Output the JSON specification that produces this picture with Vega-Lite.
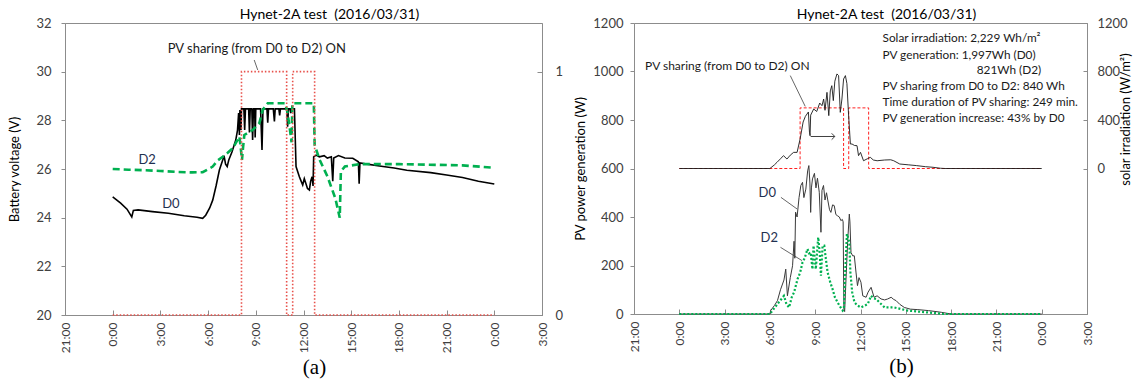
{
  "$schema": "https://vega.github.io/schema/vega-lite/v6.json",
  "padding": {"left": 8, "top": 7, "right": 2, "bottom": 0},
  "spacing": 10,
  "config": {
    "font": "Lato",
    "view": {"stroke": "#8c8c8c", "strokeWidth": 1},
    "axis": {"grid": false, "domainColor": "#8c8c8c", "tickColor": "#8c8c8c", "labelColor": "#404040", "titleColor": "#000000", "labelFont": "Lato", "titleFont": "Lato", "labelFontSize": 13, "titleFontSize": 13, "titleFontWeight": "normal"},
    "title": {"font": "Lato", "fontSize": 14, "fontWeight": "normal", "color": "#000000"}
  },
  "datasets": {
    "a_d0": [
      {"h": 0, "v": 24.85}, {"h": 0.5, "v": 24.6}, {"h": 0.9, "v": 24.35}, {"h": 1.2, "v": 24.03}, {"h": 1.3, "v": 24.3},
      {"h": 1.6, "v": 24.32}, {"h": 2.5, "v": 24.25}, {"h": 3.5, "v": 24.18}, {"h": 4.5, "v": 24.08}, {"h": 5.3, "v": 24.02},
      {"h": 5.66, "v": 23.97}, {"h": 5.85, "v": 24.1}, {"h": 6.1, "v": 24.4}, {"h": 6.29, "v": 24.72}, {"h": 6.5, "v": 25.3},
      {"h": 6.71, "v": 25.96}, {"h": 6.92, "v": 26.37}, {"h": 7.0, "v": 26.55}, {"h": 7.1, "v": 26.2}, {"h": 7.2, "v": 26.1},
      {"h": 7.3, "v": 26.37}, {"h": 7.5, "v": 26.7}, {"h": 7.74, "v": 27.19}, {"h": 7.85, "v": 27.6}, {"h": 7.92, "v": 28.3},
      {"h": 7.97, "v": 27.4}, {"h": 8.0, "v": 28.42}, {"h": 8.05, "v": 28.2}, {"h": 8.07, "v": 27.6}, {"h": 8.1, "v": 28.47},
      {"h": 8.25, "v": 28.47}, {"h": 8.3, "v": 27.6}, {"h": 8.35, "v": 28.47}, {"h": 8.55, "v": 28.47}, {"h": 8.6, "v": 27.5},
      {"h": 8.65, "v": 28.47}, {"h": 8.75, "v": 28.47}, {"h": 8.8, "v": 27.19}, {"h": 8.85, "v": 28.47}, {"h": 8.93, "v": 28.47},
      {"h": 8.96, "v": 27.3}, {"h": 9.0, "v": 28.47}, {"h": 9.3, "v": 28.47}, {"h": 9.39, "v": 26.78}, {"h": 9.45, "v": 28.47},
      {"h": 9.7, "v": 28.47}, {"h": 9.75, "v": 27.9}, {"h": 9.8, "v": 28.47}, {"h": 10.1, "v": 28.47}, {"h": 10.17, "v": 27.95},
      {"h": 10.22, "v": 28.47}, {"h": 10.45, "v": 28.47}, {"h": 10.5, "v": 28.2}, {"h": 10.55, "v": 28.47}, {"h": 10.95, "v": 28.47},
      {"h": 11.0, "v": 27.74}, {"h": 11.05, "v": 28.47}, {"h": 11.15, "v": 28.47}, {"h": 11.2, "v": 28.3}, {"h": 11.25, "v": 28.47},
      {"h": 11.43, "v": 28.47}, {"h": 11.53, "v": 26.1}, {"h": 11.74, "v": 25.68}, {"h": 11.85, "v": 25.5}, {"h": 11.95, "v": 25.34},
      {"h": 12.05, "v": 25.6}, {"h": 12.14, "v": 25.42}, {"h": 12.25, "v": 25.2}, {"h": 12.37, "v": 25.14}, {"h": 12.45, "v": 25.5},
      {"h": 12.54, "v": 25.68}, {"h": 12.6, "v": 25.3}, {"h": 12.64, "v": 26.5}, {"h": 12.79, "v": 26.57}, {"h": 13.0, "v": 26.5},
      {"h": 13.3, "v": 26.55}, {"h": 13.5, "v": 26.45}, {"h": 13.75, "v": 26.5}, {"h": 13.84, "v": 25.5}, {"h": 13.9, "v": 26.45},
      {"h": 14.2, "v": 26.55}, {"h": 14.6, "v": 26.45}, {"h": 15.1, "v": 26.44}, {"h": 15.45, "v": 26.3}, {"h": 15.5, "v": 25.4},
      {"h": 15.55, "v": 26.25}, {"h": 16.0, "v": 26.2}, {"h": 17.0, "v": 26.1}, {"h": 17.7, "v": 26.04}, {"h": 18.5, "v": 25.95},
      {"h": 20.0, "v": 25.85}, {"h": 21.0, "v": 25.75}, {"h": 22.0, "v": 25.65}, {"h": 23.0, "v": 25.5}, {"h": 24.0, "v": 25.38}
    ],
    "a_d2": [
      {"h": 0, "v": 26.0}, {"h": 1, "v": 25.97}, {"h": 2, "v": 25.95}, {"h": 3, "v": 25.92}, {"h": 4, "v": 25.88},
      {"h": 5, "v": 25.86}, {"h": 5.66, "v": 25.87}, {"h": 6.29, "v": 26.1}, {"h": 6.6, "v": 26.35}, {"h": 6.92, "v": 26.5},
      {"h": 7.2, "v": 26.65}, {"h": 7.55, "v": 26.85}, {"h": 7.97, "v": 27.33}, {"h": 8.05, "v": 26.9}, {"h": 8.13, "v": 26.37},
      {"h": 8.2, "v": 26.9}, {"h": 8.28, "v": 27.4}, {"h": 8.8, "v": 27.6}, {"h": 9.22, "v": 27.88}, {"h": 9.43, "v": 28.42},
      {"h": 9.75, "v": 28.7}, {"h": 10.3, "v": 28.7}, {"h": 10.85, "v": 28.7}, {"h": 11.0, "v": 28.3}, {"h": 11.15, "v": 27.6},
      {"h": 11.25, "v": 27.1}, {"h": 11.3, "v": 28.7}, {"h": 12.0, "v": 28.7}, {"h": 12.65, "v": 28.7}, {"h": 12.7, "v": 27.0},
      {"h": 13.0, "v": 26.4}, {"h": 13.5, "v": 25.7}, {"h": 14.0, "v": 24.8}, {"h": 14.28, "v": 24.0}, {"h": 14.35, "v": 25.9},
      {"h": 14.6, "v": 26.1}, {"h": 15.5, "v": 26.2}, {"h": 18, "v": 26.2}, {"h": 22, "v": 26.15}, {"h": 24, "v": 26.05}
    ],
    "a_share": [
      {"h": 0, "s": 0}, {"h": 8.1, "s": 1}, {"h": 10.94, "s": 0}, {"h": 11.32, "s": 1}, {"h": 12.7, "s": 0}, {"h": 24, "s": 0}
    ],
    "a_text": [
      {"h": 9.06, "v": 30.93, "label": "PV sharing (from D0 to D2) ON"}
    ],
    "a_dlab": [
      {"h": 2.17, "v": 26.37, "label": "D2"},
      {"h": 3.66, "v": 24.56, "label": "D0"}
    ],
    "a_lead": [
      {"h": 8.9, "v": 30.48, "h2": 9.12, "v2": 30.07}
    ],
    "b_irr": [
      {"h": 0, "r": 0}, {"h": 6.0, "r": 0}, {"h": 6.3, "r": 30}, {"h": 6.47, "r": 51}, {"h": 6.7, "r": 80},
      {"h": 6.9, "r": 106}, {"h": 7.13, "r": 78}, {"h": 7.35, "r": 110}, {"h": 7.57, "r": 133}, {"h": 7.8, "r": 133},
      {"h": 8.0, "r": 243}, {"h": 8.2, "r": 383}, {"h": 8.35, "r": 430}, {"h": 8.55, "r": 466}, {"h": 8.62, "r": 300},
      {"h": 8.66, "r": 270}, {"h": 8.7, "r": 440}, {"h": 8.9, "r": 491}, {"h": 9.1, "r": 470}, {"h": 9.3, "r": 540},
      {"h": 9.45, "r": 518}, {"h": 9.56, "r": 573}, {"h": 9.65, "r": 480}, {"h": 9.78, "r": 628}, {"h": 9.9, "r": 436},
      {"h": 10.0, "r": 640}, {"h": 10.1, "r": 683}, {"h": 10.2, "r": 560}, {"h": 10.3, "r": 720}, {"h": 10.44, "r": 780},
      {"h": 10.55, "r": 766}, {"h": 10.66, "r": 463}, {"h": 10.77, "r": 573}, {"h": 10.88, "r": 738}, {"h": 11.0, "r": 766},
      {"h": 11.1, "r": 700}, {"h": 11.2, "r": 466}, {"h": 11.33, "r": 202}, {"h": 11.44, "r": 202}, {"h": 11.6, "r": 190},
      {"h": 11.77, "r": 188}, {"h": 11.87, "r": 106}, {"h": 12.0, "r": 133}, {"h": 12.2, "r": 64}, {"h": 12.45, "r": 80},
      {"h": 12.65, "r": 92}, {"h": 12.85, "r": 70}, {"h": 13.1, "r": 64}, {"h": 13.6, "r": 70}, {"h": 14.0, "r": 72},
      {"h": 14.2, "r": 64}, {"h": 14.6, "r": 37}, {"h": 15.2, "r": 30}, {"h": 15.7, "r": 24}, {"h": 16.3, "r": 15},
      {"h": 16.8, "r": 10}, {"h": 17.3, "r": 2}, {"h": 17.6, "r": 0}, {"h": 24, "r": 0}
    ],
    "b_share": [
      {"h": 0, "v": 600}, {"h": 8.0, "v": 850}, {"h": 10.88, "v": 600}, {"h": 11.22, "v": 850}, {"h": 12.54, "v": 600}, {"h": 24, "v": 600}
    ],
    "b_d0": [
      {"h": 0, "v": 0}, {"h": 6.0, "v": 0}, {"h": 6.05, "v": 14}, {"h": 6.3, "v": 35}, {"h": 6.5, "v": 55},
      {"h": 6.7, "v": 100}, {"h": 6.93, "v": 140}, {"h": 7.05, "v": 185}, {"h": 7.16, "v": 75}, {"h": 7.35, "v": 150},
      {"h": 7.5, "v": 199}, {"h": 7.6, "v": 300}, {"h": 7.65, "v": 230}, {"h": 7.7, "v": 420}, {"h": 7.8, "v": 400},
      {"h": 7.93, "v": 480}, {"h": 8.05, "v": 530}, {"h": 8.16, "v": 543}, {"h": 8.25, "v": 480}, {"h": 8.38, "v": 515},
      {"h": 8.5, "v": 590}, {"h": 8.58, "v": 612}, {"h": 8.65, "v": 540}, {"h": 8.7, "v": 419}, {"h": 8.75, "v": 520},
      {"h": 8.82, "v": 557}, {"h": 8.95, "v": 580}, {"h": 9.05, "v": 520}, {"h": 9.15, "v": 560}, {"h": 9.27, "v": 502},
      {"h": 9.38, "v": 337}, {"h": 9.45, "v": 510}, {"h": 9.55, "v": 530}, {"h": 9.65, "v": 470}, {"h": 9.75, "v": 500},
      {"h": 9.82, "v": 474}, {"h": 9.95, "v": 430}, {"h": 10.04, "v": 419}, {"h": 10.15, "v": 450}, {"h": 10.26, "v": 447},
      {"h": 10.37, "v": 410}, {"h": 10.48, "v": 405}, {"h": 10.6, "v": 400}, {"h": 10.7, "v": 385}, {"h": 10.8, "v": 390},
      {"h": 10.85, "v": 380}, {"h": 10.9, "v": 20}, {"h": 10.95, "v": 10}, {"h": 11.04, "v": 144}, {"h": 11.15, "v": 300},
      {"h": 11.26, "v": 412}, {"h": 11.3, "v": 380}, {"h": 11.37, "v": 254}, {"h": 11.48, "v": 240}, {"h": 11.59, "v": 240},
      {"h": 11.7, "v": 173}, {"h": 11.8, "v": 117}, {"h": 11.9, "v": 150}, {"h": 12.03, "v": 131}, {"h": 12.15, "v": 75},
      {"h": 12.37, "v": 69}, {"h": 12.5, "v": 90}, {"h": 12.7, "v": 110}, {"h": 12.9, "v": 69}, {"h": 13.1, "v": 75},
      {"h": 13.36, "v": 62}, {"h": 13.6, "v": 58}, {"h": 13.8, "v": 62}, {"h": 14.03, "v": 69}, {"h": 14.2, "v": 60},
      {"h": 14.36, "v": 55}, {"h": 14.6, "v": 40}, {"h": 14.9, "v": 27}, {"h": 15.3, "v": 20}, {"h": 15.8, "v": 18},
      {"h": 16.5, "v": 14}, {"h": 17.0, "v": 10}, {"h": 17.35, "v": 7}, {"h": 18.0, "v": 0}, {"h": 24, "v": 0}
    ],
    "b_d2": [
      {"h": 0, "v": 0}, {"h": 6.0, "v": 0}, {"h": 6.5, "v": 41}, {"h": 6.93, "v": 75}, {"h": 7.1, "v": 40},
      {"h": 7.27, "v": 27}, {"h": 7.45, "v": 70}, {"h": 7.6, "v": 89}, {"h": 7.83, "v": 144}, {"h": 8.0, "v": 170},
      {"h": 8.16, "v": 213}, {"h": 8.3, "v": 230}, {"h": 8.49, "v": 268}, {"h": 8.6, "v": 250}, {"h": 8.7, "v": 254},
      {"h": 8.82, "v": 185}, {"h": 8.89, "v": 282}, {"h": 9.04, "v": 185}, {"h": 9.2, "v": 316}, {"h": 9.3, "v": 250},
      {"h": 9.38, "v": 158}, {"h": 9.49, "v": 282}, {"h": 9.6, "v": 282}, {"h": 9.7, "v": 230}, {"h": 9.82, "v": 172},
      {"h": 10.0, "v": 130}, {"h": 10.15, "v": 103}, {"h": 10.3, "v": 70}, {"h": 10.48, "v": 48}, {"h": 10.65, "v": 30},
      {"h": 10.82, "v": 14}, {"h": 10.9, "v": 20}, {"h": 10.97, "v": 150}, {"h": 11.1, "v": 330}, {"h": 11.2, "v": 310},
      {"h": 11.26, "v": 296}, {"h": 11.33, "v": 172}, {"h": 11.45, "v": 90}, {"h": 11.6, "v": 48}, {"h": 11.8, "v": 35},
      {"h": 12.03, "v": 27}, {"h": 12.3, "v": 35}, {"h": 12.48, "v": 41}, {"h": 12.7, "v": 75}, {"h": 12.85, "v": 65},
      {"h": 13.03, "v": 62}, {"h": 13.3, "v": 45}, {"h": 13.6, "v": 27}, {"h": 14.25, "v": 27}, {"h": 14.7, "v": 20},
      {"h": 15.14, "v": 14}, {"h": 15.8, "v": 10}, {"h": 16.9, "v": 4}, {"h": 17.5, "v": 0}, {"h": 24, "v": 0}
    ],
    "b_text": [
      {"h": 3.18, "v": 1021, "label": "PV sharing (from D0 to D2) ON"}
    ],
    "b_dlab": [
      {"h": 5.83, "v": 499, "label": "D0"},
      {"h": 5.96, "v": 313, "label": "D2"}
    ],
    "b_stats": [
      {"h": 13.46, "v": 1137, "label": "Solar irradiation: 2,229 Wh/m²"},
      {"h": 13.46, "v": 1070, "label": "PV generation:  1,997Wh (D0)"},
      {"h": 19.7, "v": 1006, "label": "821Wh (D2)"},
      {"h": 13.46, "v": 939, "label": "PV sharing from D0 to D2:  840 Wh"},
      {"h": 13.46, "v": 876, "label": "Time duration of PV sharing: 249 min."},
      {"h": 13.46, "v": 810, "label": "PV generation increase: 43% by D0"}
    ],
    "b_lead": [
      {"h": 7.35, "v": 983, "h2": 8.34, "v2": 856},
      {"h": 6.73, "v": 481, "h2": 7.8, "v2": 433},
      {"h": 6.7, "v": 275, "h2": 8.13, "v2": 220}
    ],
    "b_arrow": [
      {"h": 8.7, "v": 732, "h2": 10.3}
    ],
    "b_head": [
      {"h": 10.3, "v": 732}
    ]
  },
  "hconcat": [
    {
      "width": 477,
      "height": 292,
      "title": {"text": "Hynet-2A test \u00a0(2016/03/31)", "dx": 26, "offset": -5},
      "encoding": {
        "x": {
          "field": "h", "type": "quantitative",
          "scale": {"domain": [-3, 27], "nice": false, "zero": false},
          "axis": {
            "values": [-3, 0, 3, 6, 9, 12, 15, 18, 21, 24, 27],
            "labelExpr": "((datum.value + 24) % 24) + ':00'",
            "labelAngle": 270, "labelFontSize": 12, "tickSize": -5, "labelPadding": 12,
            "title": "(a)", "titleFont": "Liberation Serif", "titleFontSize": 21, "titleX": 249, "titlePadding": 4
          }
        }
      },
      "layer": [
        {
          "encoding": {
            "y": {
              "field": "v", "type": "quantitative",
              "scale": {"domain": [20, 32], "nice": false, "zero": false},
              "axis": {"values": [20, 22, 24, 26, 28, 30, 32], "title": "Battery voltage (V)", "tickSize": 4, "labelPadding": 10, "titlePadding": 14}
            }
          },
          "layer": [
            {"data": {"name": "a_d0"}, "mark": {"type": "line", "color": "#000000", "strokeWidth": 1.6}},
            {"data": {"name": "a_d2"}, "mark": {"type": "line", "color": "#00b050", "strokeWidth": 2.6, "strokeDash": [7, 4]}},
            {"data": {"name": "a_text"}, "mark": {"type": "text", "fontSize": 13, "color": "#1a1a1a", "baseline": "middle"}, "encoding": {"text": {"field": "label"}}},
            {"data": {"name": "a_dlab"}, "mark": {"type": "text", "fontSize": 13, "color": "#1f3050", "baseline": "middle"}, "encoding": {"text": {"field": "label"}}},
            {"data": {"name": "a_lead"}, "mark": {"type": "rule", "color": "#404040", "strokeWidth": 0.8}, "encoding": {"x2": {"field": "h2"}, "y2": {"field": "v2"}}}
          ]
        },
        {
          "data": {"name": "a_share"},
          "mark": {"type": "line", "color": "#e8504a", "strokeWidth": 1.6, "strokeDash": [1.5, 2], "interpolate": "step-after"},
          "encoding": {
            "y": {
              "field": "s", "type": "quantitative",
              "scale": {"domain": [0, 1.2], "nice": false, "zero": false},
              "axis": {"values": [0, 1], "format": "d", "title": null, "orient": "right", "tickSize": -5, "labelPadding": 18}
            }
          }
        }
      ],
      "resolve": {"scale": {"y": "independent"}}
    },
    {
      "width": 453,
      "height": 291,
      "title": {"text": "Hynet-2A test \u00a0(2016/03/31)", "dx": 26, "offset": -5},
      "encoding": {
        "x": {
          "field": "h", "type": "quantitative",
          "scale": {"domain": [-3, 27], "nice": false, "zero": false},
          "axis": {
            "values": [-3, 0, 3, 6, 9, 12, 15, 18, 21, 24, 27],
            "labelExpr": "((datum.value + 24) % 24) + ':00'",
            "labelAngle": 270, "labelFontSize": 12, "tickSize": -5, "labelPadding": 12,
            "title": "(b)", "titleFont": "Liberation Serif", "titleFontSize": 21, "titleX": 267, "titlePadding": 4
          }
        }
      },
      "layer": [
        {
          "encoding": {
            "y": {
              "field": "v", "type": "quantitative",
              "scale": {"domain": [0, 1200], "nice": false},
              "axis": {"values": [0, 200, 400, 600, 800, 1000, 1200], "format": "d", "title": "PV power generation (W)", "tickSize": 4, "labelPadding": 7, "titlePadding": 5}
            }
          },
          "layer": [
            {"data": {"name": "b_share"}, "mark": {"type": "line", "color": "#ff2020", "strokeWidth": 1, "strokeDash": [3, 2], "interpolate": "step-after"}},
            {"data": {"name": "b_d0"}, "mark": {"type": "line", "color": "#3a3a3a", "strokeWidth": 1}},
            {"data": {"name": "b_d2"}, "mark": {"type": "line", "color": "#00b050", "strokeWidth": 2.2, "strokeDash": [2, 2]}},
            {"data": {"name": "b_text"}, "mark": {"type": "text", "fontSize": 12, "color": "#1a1a1a", "baseline": "middle"}, "encoding": {"text": {"field": "label"}}},
            {"data": {"name": "b_dlab"}, "mark": {"type": "text", "fontSize": 13, "color": "#1f3050", "baseline": "middle"}, "encoding": {"text": {"field": "label"}}},
            {"data": {"name": "b_stats"}, "mark": {"type": "text", "fontSize": 11.8, "color": "#1a1a1a", "align": "left", "baseline": "middle"}, "encoding": {"text": {"field": "label"}}},
            {"data": {"name": "b_lead"}, "mark": {"type": "rule", "color": "#404040", "strokeWidth": 0.8}, "encoding": {"x2": {"field": "h2"}, "y2": {"field": "v2"}}},
            {"data": {"name": "b_arrow"}, "mark": {"type": "rule", "color": "#404040", "strokeWidth": 1}, "encoding": {"x2": {"field": "h2"}}},
            {"data": {"name": "b_head"}, "mark": {"type": "point", "shape": "M -1 -1 L 0 0 L -1 1", "filled": false, "size": 40, "color": "#404040", "strokeWidth": 1, "opacity": 1}}
          ]
        },
        {
          "data": {"name": "b_irr"},
          "mark": {"type": "line", "color": "#1a1a1a", "strokeWidth": 0.9},
          "encoding": {
            "y": {
              "field": "r", "type": "quantitative",
              "scale": {"domain": [-1200, 1200], "nice": false, "zero": false},
              "axis": {"values": [0, 400, 800, 1200], "format": "d", "title": "solar irradiation (W/m²)", "orient": "right", "tickSize": -4, "labelPadding": 14, "titleAngle": 270, "titleY": 96, "titlePadding": 5}
            }
          }
        }
      ],
      "resolve": {"scale": {"y": "independent"}}
    }
  ]
}
